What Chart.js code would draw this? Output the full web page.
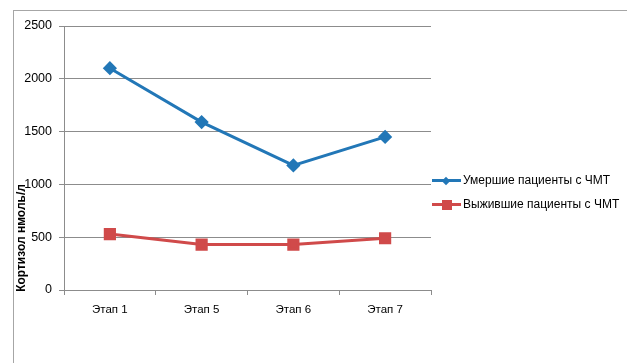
<!DOCTYPE html>
<html>
<head>
<meta charset="utf-8">
<script src="https://cdn.jsdelivr.net/npm/chart.js@4"></script>
<style>
  html, body { margin: 0; padding: 0; background: #fff; }
  #wrap { position: relative; width: 627px; height: 363px; overflow: hidden; }
  #frame { position: absolute; left: 13px; top: 10px; width: 640px; height: 400px;
           border-left: 1px solid #a6a6a6; border-top: 1px solid #a6a6a6; }
  canvas { position: absolute; left: 0; top: 0; }
  #legend { position: absolute; left: 432px; top: 168px; font: 12px "Liberation Sans", sans-serif; color: #000; }
  .item { height: 24px; display: flex; align-items: center; white-space: nowrap; }
  .sym { position: relative; width: 29px; height: 18px; margin-right: 2px; }
  .sym .ln { position: absolute; left: 0; right: 0; top: 8px; height: 3px; }
  .sym .mk { position: absolute; }
</style>
</head>
<body>
<div id="wrap">
  <div id="frame"></div>
  <canvas id="chart" width="627" height="363"></canvas>
  <div id="legend"></div>
</div>
<script>
var categories = ['Этап 1', 'Этап 5', 'Этап 6', 'Этап 7']
var seriesNames = ['Умершие пациенты с ЧМТ', 'Выжившие пациенты с ЧМТ']
var died = [2100, 1590, 1180, 1450]
var survived = [530, 430, 430, 490]
var yTicks = [0, 500, 1000, 1500, 2000, 2500]
var yTitle = 'Кортизол нмоль/л'

var blue = '#2277b7'
var red = '#d04a4a'

// y axis title drawn where Excel put it
const yTitlePlugin = {
    id: 'yTitle',
    afterDraw(chart) {
        const ctx = chart.ctx
        ctx.save()
        ctx.translate(22, 238)
        ctx.rotate(-Math.PI / 2)
        ctx.font = 'bold 12px "Liberation Sans", sans-serif'
        ctx.fillStyle = '#000'
        ctx.textAlign = 'center'
        ctx.textBaseline = 'middle'
        ctx.fillText(yTitle, 0, 0)
        ctx.restore()
    }
}

const chart = new Chart(document.getElementById('chart'), {
    type: 'line',
    data: {
        labels: categories,
        datasets: [{
            label: seriesNames[0],
            data: died,
            borderColor: blue,
            backgroundColor: blue,
            borderWidth: 3,
            pointStyle: 'rectRot',
            pointRadius: 5,
            pointHoverRadius: 5,
            tension: 0
        }, {
            label: seriesNames[1],
            data: survived,
            borderColor: red,
            backgroundColor: red,
            borderWidth: 3,
            pointStyle: 'rect',
            pointRadius: 6.5,
            pointHoverRadius: 6.5,
            tension: 0
        }]
    },
    options: {
        responsive: false,
        animation: false,
        devicePixelRatio: 1,
        layout: { padding: { left: 0, top: 26, right: 196, bottom: 0 } },
        plugins: { legend: { display: false }, tooltip: { enabled: false } },
        scales: {
            x: {
                offset: true,
                grid: { display: true, drawOnChartArea: false, offset: true, tickLength: 5, color: '#8c8c8c' },
                border: { color: '#8c8c8c' },
                ticks: { color: '#000', font: { family: 'Liberation Sans', size: 11.5 }, padding: 8, maxRotation: 0 },
                afterFit(scale) { scale.height = 73 }
            },
            y: {
                min: 0,
                max: 2500,
                afterBuildTicks(scale) { scale.ticks = yTicks.map(v => ({ value: v })) },
                grid: { color: '#8c8c8c', tickLength: 5 },
                border: { color: '#8c8c8c' },
                ticks: { color: '#000', font: { family: 'Liberation Sans', size: 12.5 }, padding: 7,
                         callback: v => String(v) },
                afterFit(scale) { scale.width = 64 }
            }
        }
    },
    plugins: [yTitlePlugin]
})

// legend: line with marker, like Excel
const legend = document.getElementById('legend')
chart.data.datasets.forEach(ds => {
    const item = document.createElement('div')
    item.className = 'item'
    const sym = document.createElement('div')
    sym.className = 'sym'
    const ln = document.createElement('div')
    ln.className = 'ln'
    ln.style.background = ds.borderColor
    const mk = document.createElement('div')
    mk.className = 'mk'
    mk.style.background = ds.borderColor
    if (ds.pointStyle === 'rectRot') {
        mk.style.width = '6px'; mk.style.height = '6px'
        mk.style.left = '11px'; mk.style.top = '6.5px'
        mk.style.transform = 'rotate(45deg)'
    } else {
        mk.style.width = '10px'; mk.style.height = '10px'
        mk.style.left = '10px'; mk.style.top = '4.5px'
    }
    sym.appendChild(ln)
    sym.appendChild(mk)
    const txt = document.createElement('span')
    txt.textContent = ds.label
    item.appendChild(sym)
    item.appendChild(txt)
    legend.appendChild(item)
})
</script>
</body>
</html>
